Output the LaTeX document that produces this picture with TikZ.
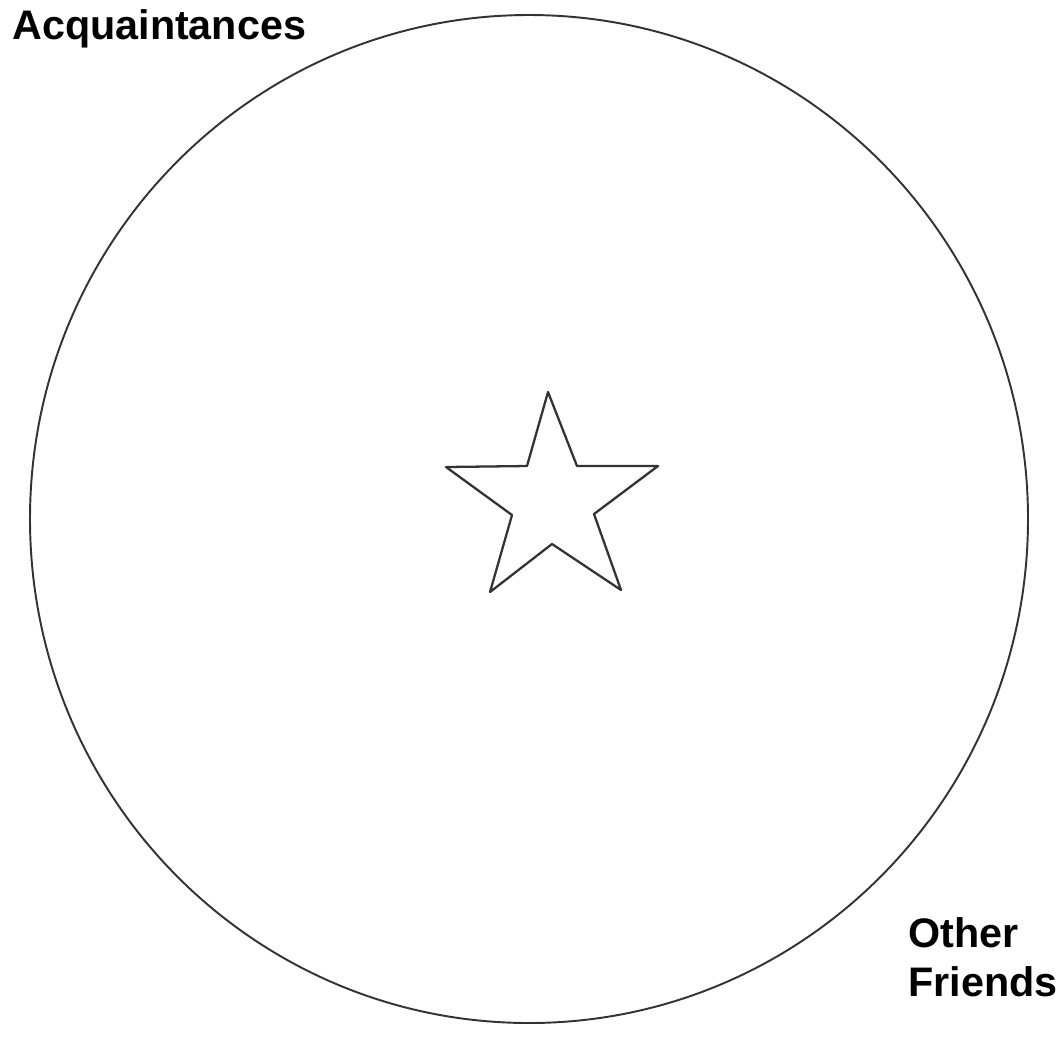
\documentclass[tikz,border=0pt]{standalone}
\usepackage{fontspec}
\setmainfont{Liberation Sans}
\usetikzlibrary{calc}

\begin{document}
\begin{tikzpicture}[x=0.02cm,y=-0.02cm,line join=round,
	ring/.style={line width=1.1pt,draw=black!80},
	label/.style={font=\bfseries\fontsize{23.5}{27.5}\selectfont,inner sep=0pt}]
	\useasboundingbox (0,0) rectangle (1061,1036);
	\draw[ring] (529,519) ellipse (499 and 504);
	\draw[ring,line width=1.3pt] (548,392)--(577,466)--(658,466)--(594,514)--(621,590)--(552,544)--(490,592)--(512,515)--(446,467)--(527,466)--cycle;
	\node[label,anchor=base west] (acq) at (12,39) {Acquaintances};
	\node[label,anchor=base west,align=left] (oth) at (908,996) {Other\\Friends};
\end{tikzpicture}
\end{document}
